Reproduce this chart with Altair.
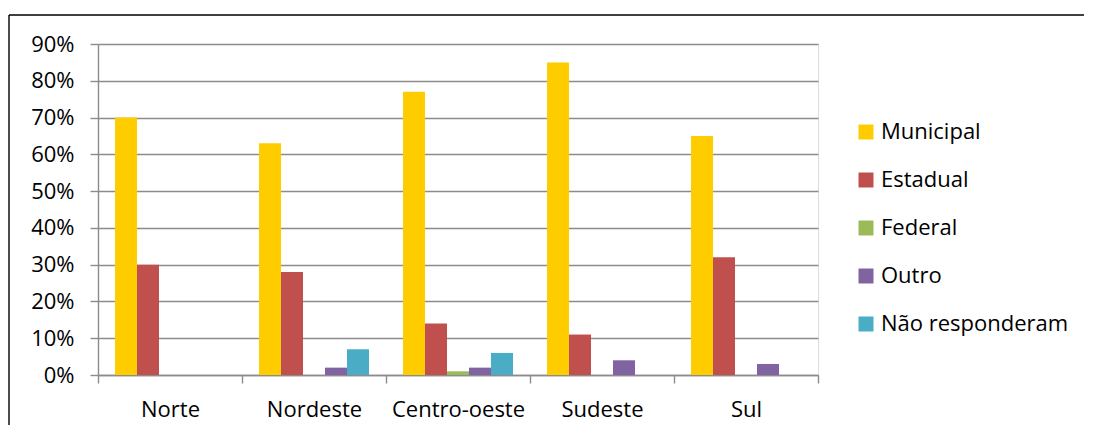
import altair as alt
import pandas as pd

regions = ["Norte", "Nordeste", "Centro-oeste", "Sudeste", "Sul"]
series = ["Municipal", "Estadual", "Federal", "Outro", "Não responderam"]
municipal = [0.70, 0.63, 0.77, 0.85, 0.65]
estadual = [0.30, 0.28, 0.14, 0.11, 0.32]
federal = [0.00, 0.00, 0.01, 0.00, 0.00]
outro = [0.00, 0.02, 0.02, 0.04, 0.03]
nao_responderam = [0.00, 0.07, 0.06, 0.00, 0.00]
colors = ["#FFCC00", "#C0504D", "#9BBB59", "#8064A2", "#4BACC6"]
y_ticks = [0.0, 0.1, 0.2, 0.3, 0.4, 0.5, 0.6, 0.7, 0.8, 0.9]

rows = []
for s, vals in zip(series, [municipal, estadual, federal, outro, nao_responderam]):
    for r, v in zip(regions, vals):
        rows.append({"Região": r, "Tipo": s, "Valor": v})
df = pd.DataFrame(rows)

FONT = "Open Sans"
GRAY = "#8c8c8c"
W, H = 720, 331

bars = alt.Chart(df).mark_bar().encode(
    x=alt.X(
        "Região:N",
        sort=regions,
        scale=alt.Scale(paddingInner=0, paddingOuter=0),
        axis=alt.Axis(
            title=None, labelAngle=0, tickBand="extent", tickSize=8,
            labelPadding=16, labelFontSize=22, labelFont=FONT, labelColor="#000000",
            domainColor=GRAY, tickColor=GRAY, domainWidth=1.4, tickWidth=1.4,
            grid=False,
        ),
    ),
    xOffset=alt.XOffset(
        "Tipo:N", sort=series,
        scale=alt.Scale(paddingInner=0, paddingOuter=0.773),
    ),
    y=alt.Y(
        "Valor:Q",
        scale=alt.Scale(domain=[0, 0.9], nice=False),
        axis=alt.Axis(
            title=None, values=y_ticks, format=".0%", tickSize=8, labelPadding=16,
            labelFontSize=22, labelFont=FONT, labelColor="#000000",
            domainColor=GRAY, tickColor=GRAY, gridColor=GRAY,
            domainWidth=1.4, tickWidth=1.4, gridWidth=1.4, grid=True,
        ),
    ),
    color=alt.Color(
        "Tipo:N", sort=series,
        scale=alt.Scale(domain=series, range=colors),
        legend=alt.Legend(
            title=None, orient="none", legendX=757, legendY=77,
            symbolType="square", symbolSize=225, symbolStrokeWidth=0,
            labelFontSize=22, labelFont=FONT, labelColor="#000000",
            labelOffset=4, labelLimit=0, rowPadding=26, padding=0,
        ),
    ),
)

frame_df = pd.DataFrame({"k": [0]})
top_line = alt.Chart(frame_df).mark_rule(color="#000000", strokeWidth=1.4).encode(
    x=alt.value(-89), x2=alt.value(1100), y=alt.value(-29)
)
left_line = alt.Chart(frame_df).mark_rule(color="#000000", strokeWidth=1.4).encode(
    x=alt.value(-89), y=alt.value(-29), y2=alt.value(420)
)

chart = alt.layer(bars, top_line, left_line).properties(
    width=W, height=H,
    autosize=alt.AutoSizeParams(type="none"),
    padding={"left": 90, "top": 36, "right": 266, "bottom": 50},
).configure_view(stroke=None).configure(background="#ffffff")

chart.save("out.html", embed_options={"renderer": "svg", "actions": False})
